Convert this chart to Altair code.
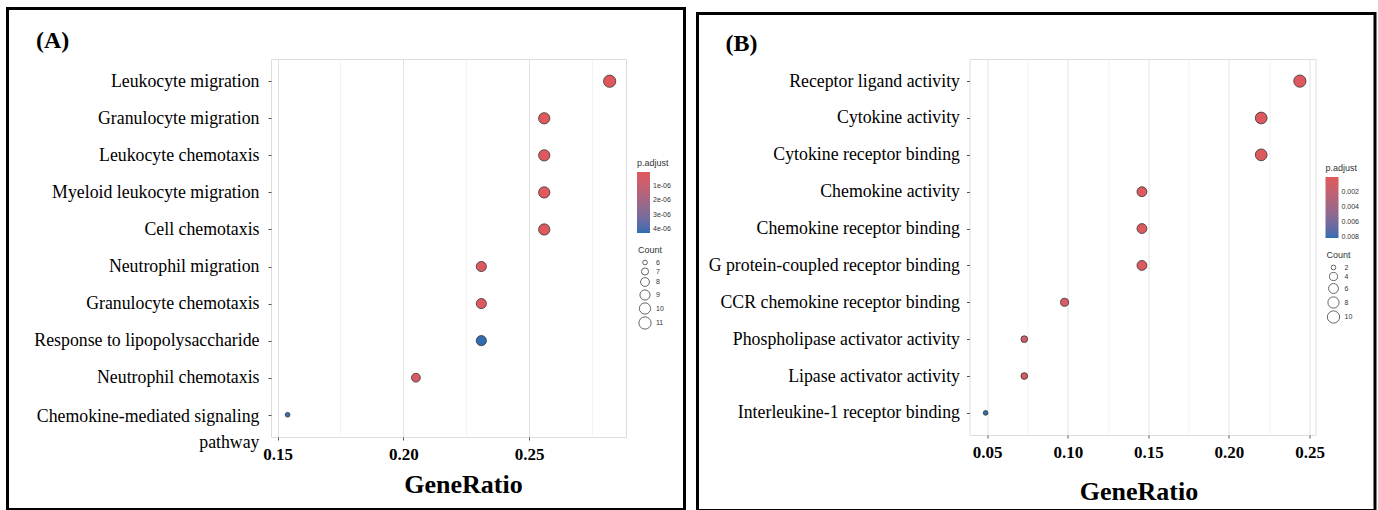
import altair as alt
import pandas as pd

# ---------------- data ----------------
terms_a = ["Leukocyte migration", "Granulocyte migration", "Leukocyte chemotaxis",
           "Myeloid leukocyte migration", "Cell chemotaxis", "Neutrophil migration",
           "Granulocyte chemotaxis", "Response to lipopolysaccharide",
           "Neutrophil chemotaxis", "Chemokine-mediated signaling pathway"]
ratio_a = [0.282, 0.256, 0.256, 0.256, 0.256, 0.231, 0.231, 0.231, 0.205, 0.154]
count_a = [11, 10, 10, 10, 10, 9, 9, 9, 8, 6]
padj_a = [2e-08, 3e-08, 5e-08, 6e-08, 8e-08, 1.5e-07, 1.8e-07, 4.3e-06, 3e-07, 4.2e-06]
xticks_a = [0.15, 0.175, 0.20, 0.225, 0.25, 0.275]
cticks_a = [1e-06, 2e-06, 3e-06, 4e-06]
sticks_a = [6, 7, 8, 9, 10, 11]

terms_b = ["Receptor ligand activity", "Cytokine activity", "Cytokine receptor binding",
           "Chemokine activity", "Chemokine receptor binding",
           "G protein-coupled receptor binding", "CCR chemokine receptor binding",
           "Phospholipase activator activity", "Lipase activator activity",
           "Interleukine-1 receptor binding"]
ratio_b = [0.244, 0.220, 0.220, 0.146, 0.146, 0.146, 0.098, 0.073, 0.073, 0.049]
count_b = [10, 9, 9, 6, 6, 6, 4, 3, 3, 2]
padj_b = [1e-04, 2e-04, 2e-04, 3e-04, 3e-04, 3e-04, 6e-04, 9e-04, 9e-04, 8.1e-03]
xticks_b = [0.05, 0.075, 0.10, 0.125, 0.15, 0.175, 0.20, 0.225, 0.25]
cticks_b = [0.002, 0.004, 0.006, 0.008]
sticks_b = [2, 4, 6, 8, 10]

RED = "#e0585c"
BLUE = "#2f6db3"
SERIF = "Liberation Serif"
SANS = "Liberation Sans"

MINOR = "abs(round(datum.value*100) - datum.value*100) > 0.1"
WRAP = ("datum.value == 'Chemokine-mediated signaling pathway' ? "
        "['Chemokine-mediated signaling', 'pathway'] : datum.value")


def panel(tag, terms, ratio, count, padj, xdom, xticks, cdom, cticks, cfmt,
          sdom, sticks, w, h, box, tag_xy, leg_xy, size_y, label_pad,
          title_x, title_y, top_fix=None):
    df = pd.DataFrame({"Description": terms, "GeneRatio": ratio,
                       "Count": count, "padj": padj})
    # legend shows small p.adjust at the top (as in ggplot's reversed colourbar)
    pts = alt.Chart(df).transform_calculate(
        negp="-datum.padj"
    ).mark_circle(stroke="#333333", strokeWidth=0.8, opacity=1).encode(
        x=alt.X("GeneRatio:Q",
                scale=alt.Scale(domain=xdom, nice=False, zero=False),
                axis=alt.Axis(values=xticks, format=".2f",
                              labelExpr=f"{MINOR} ? '' : format(datum.value, '.2f')",
                              gridColor={"condition": {"test": MINOR, "value": "#f3f3f3"},
                                         "value": "#e2e2e2"},
                              tickColor={"condition": {"test": MINOR, "value": "transparent"},
                                         "value": "#555555"},
                              tickSize=3, domain=False, labelPadding=6,
                              labelFont=SERIF, labelFontWeight="bold", labelFontSize=17,
                              labelColor="black", title="GeneRatio", titleFont=SERIF,
                              titleFontWeight="bold", titleFontSize=26, titleColor="black",
                              titleX=title_x, titleY=title_y, titleBaseline="alphabetic")),
        y=alt.Y("Description:N", sort=terms,
                scale=alt.Scale(type="point", padding=0.6),
                axis=alt.Axis(title=None, domain=False, tickSize=3, tickColor="#555555",
                              gridColor="#ebebeb", labelFont=SERIF, labelFontSize=17.8,
                              labelColor="black", labelLimit=400, labelPadding=label_pad,
                              labelExpr=WRAP, labelLineHeight=26,
                              labelOffset={"condition": {
                                  "test": "datum.value == 'Chemokine-mediated signaling pathway'",
                                  "value": 2}, "value": 0})),
        color=alt.Color("negp:Q",
                        scale=alt.Scale(domain=[-cdom[1], -cdom[0]], range=[BLUE, RED],
                                        interpolate="lab"),
                        legend=alt.Legend(title="p.adjust", orient="none",
                                          legendX=leg_xy[0], legendY=leg_xy[1],
                                          direction="vertical",
                                          values=[-v for v in cticks],
                                          labelExpr=cfmt, gradientLength=61,
                                          gradientThickness=13, gradientStrokeWidth=0,
                                          titleFont=SANS, titleFontSize=9,
                                          titleFontWeight="normal", titleColor="#333333",
                                          titlePadding=4, labelFont=SANS, labelFontSize=7,
                                          labelColor="#333333", labelOffset=3)),
        size=alt.Size("Count:Q",
                      scale=alt.Scale(type="sqrt", domain=sdom, range=[22, 150], zero=False),
                      legend=alt.Legend(title="Count", orient="none",
                                        legendX=leg_xy[0] + 1, legendY=size_y,
                                        values=sticks, symbolType="circle",
                                        symbolFillColor="white", symbolStrokeColor="#555555",
                                        symbolStrokeWidth=0.9, titleFont=SANS, titleFontSize=9,
                                        titleFontWeight="normal", titleColor="#333333",
                                        titlePadding=4, labelFont=SANS, labelFontSize=7,
                                        labelColor="#333333", rowPadding=-4)),
    )

    deco = pd.DataFrame({"label": [tag]})
    frame = alt.Chart(deco).mark_rect(fillOpacity=0, stroke="black", strokeWidth=3).encode(
        x=alt.value(box[0]), x2=alt.value(box[1]), y=alt.value(box[2]), y2=alt.value(box[3]))
    label = alt.Chart(deco).mark_text(align="left", baseline="alphabetic", font=SERIF,
                                      fontSize=24, fontWeight="bold", color="black").encode(
        x=alt.value(tag_xy[0]), y=alt.value(tag_xy[1]), text="label:N")
    layers = [frame, pts, label]
    if top_fix is not None:
        fix = alt.Chart(deco).mark_rule(color="white", strokeWidth=1).encode(
            x=alt.value(0), x2=alt.value(10), y=alt.value(top_fix))
        layers.append(fix)
    return alt.layer(*layers).properties(width=w, height=h)


panel_a = panel("(A)", terms_a, ratio_a, count_a, padj_a,
                xdom=[0.1474, 0.2885], xticks=xticks_a,
                cdom=[1e-08, 4.3e-06], cticks=cticks_a,
                cfmt="replace(format(-datum.value, '.0e'), 'e-', 'e-0')",
                sdom=[6, 11], sticks=sticks_a, w=355, h=378,
                box=[-263.5, 413.5, -50.5, 450.5], tag_xy=[-235, -11],
                leg_xy=[366, 100], size_y=187, label_pad=9,
                title_x=192, title_y=55)

panel_b = panel("(B)", terms_b, ratio_b, count_b, padj_b,
                xdom=[0.0390, 0.2537], xticks=xticks_b,
                cdom=[1e-05, 0.0081], cticks=cticks_b,
                cfmt="format(-datum.value, '.3f')",
                sdom=[2, 10], sticks=sticks_b, w=346, h=376,
                box=[-272, 405.5, -45.5, 451.5], tag_xy=[-244, -8],
                leg_xy=[356, 105], size_y=192, label_pad=7,
                title_x=169, title_y=64, top_fix=-52.5)

chart = alt.hconcat(panel_a, panel_b, spacing=8.5).resolve_scale(
    x="independent", y="independent", color="independent", size="independent"
).properties(
    padding={"left": 5, "top": 5, "right": 0, "bottom": 0}
).configure_view(stroke="#8c8c8c", strokeWidth=1).configure(background="white")

chart.save("out.html", embed_options={"renderer": "svg", "actions": False})
